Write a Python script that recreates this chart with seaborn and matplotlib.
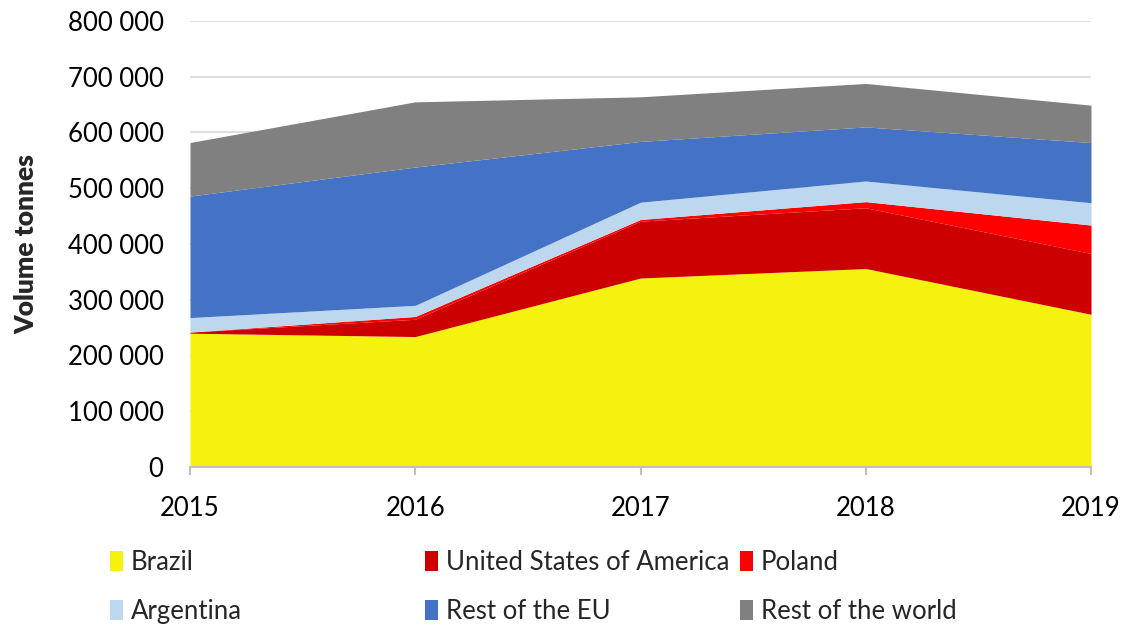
import matplotlib
matplotlib.use("Agg")
import matplotlib.pyplot as plt
from matplotlib.patches import Patch
from matplotlib.ticker import FuncFormatter, MultipleLocator
import pandas as pd
import seaborn as sns

years = [2015, 2016, 2017, 2018, 2019]
brazil = [240000, 234000, 339000, 356000, 274000]
usa = [2000, 31000, 102000, 109000, 109000]
poland = [0, 5000, 3000, 11000, 51000]
argentina = [26000, 20000, 31000, 37000, 40000]
rest_eu = [218000, 248000, 109000, 97000, 108000]
rest_world = [96000, 117000, 80000, 78000, 67000]

origins = ["Brazil", "United States of America", "Poland",
           "Argentina", "Rest of the EU", "Rest of the world"]
series = [brazil, usa, poland, argentina, rest_eu, rest_world]
colors = ["#F5F20F", "#CC0000", "#FF0000", "#BDD7EE", "#4472C4", "#808080"]

rows = []
for name, vals in zip(origins, series):
    for y, v in zip(years, vals):
        rows.append({"year": y, "origin": name, "volume": v})
df = pd.DataFrame(rows)

sns.set_theme(style="white")
plt.rcParams["font.family"] = ["Lato", "DejaVu Sans"]

fig = plt.figure(figsize=(11.24, 6.27), dpi=100)
ax = fig.add_axes([190 / 1124, 1 - 467 / 627, 901 / 1124, 446 / 627])

# seaborn stacks the last hue level at the bottom
sns.histplot(data=df, x="year", weights="volume", hue="origin",
             hue_order=origins[::-1], palette=dict(zip(origins, colors)),
             multiple="stack", element="poly", discrete=True,
             alpha=1, linewidth=0, legend=False, ax=ax)

ax.set_xlim(2015, 2019)
ax.set_ylim(0, 800000)
ax.set_xticks(years)
ax.yaxis.set_major_locator(MultipleLocator(100000))
ax.yaxis.set_major_formatter(FuncFormatter(lambda v, p: f"{int(v):,}".replace(",", " ")))
ax.yaxis.grid(True, color="#d9d9d9", linewidth=1.2)
ax.set_axisbelow(True)

for s in ["top", "right", "left"]:
    ax.spines[s].set_visible(False)
ax.spines["bottom"].set_color("#bfbfbf")
ax.spines["bottom"].set_linewidth(1.5)

ax.tick_params(axis="x", length=6, width=1.5, color="#bfbfbf", pad=15,
               labelsize=18.5, labelcolor="black", direction="out", bottom=True)
ax.tick_params(axis="y", length=0, pad=19, labelsize=18.5, labelcolor="black")

ax.set_xlabel("")
ax.set_ylabel("Volume tonnes", fontsize=19, fontweight="heavy")
ax.yaxis.set_label_coords(-0.168, 0.5)

# legend laid out like the original: three fixed columns, two rows
col_x = [110, 425, 740]
for i, cx in enumerate(col_x):
    idx = [i, i + 3]
    handles = [Patch(facecolor=colors[j], edgecolor="none", label=origins[j]) for j in idx]
    fig.legend(handles=handles, loc="center left",
               bbox_to_anchor=(cx / 1124, 1 - 587 / 627),
               frameon=False, fontsize=18.5, handlelength=0.5,
               handleheight=0.8, handletextpad=0.3, labelspacing=0.95,
               borderaxespad=0, borderpad=0)

fig.savefig("out.png", dpi=100)
